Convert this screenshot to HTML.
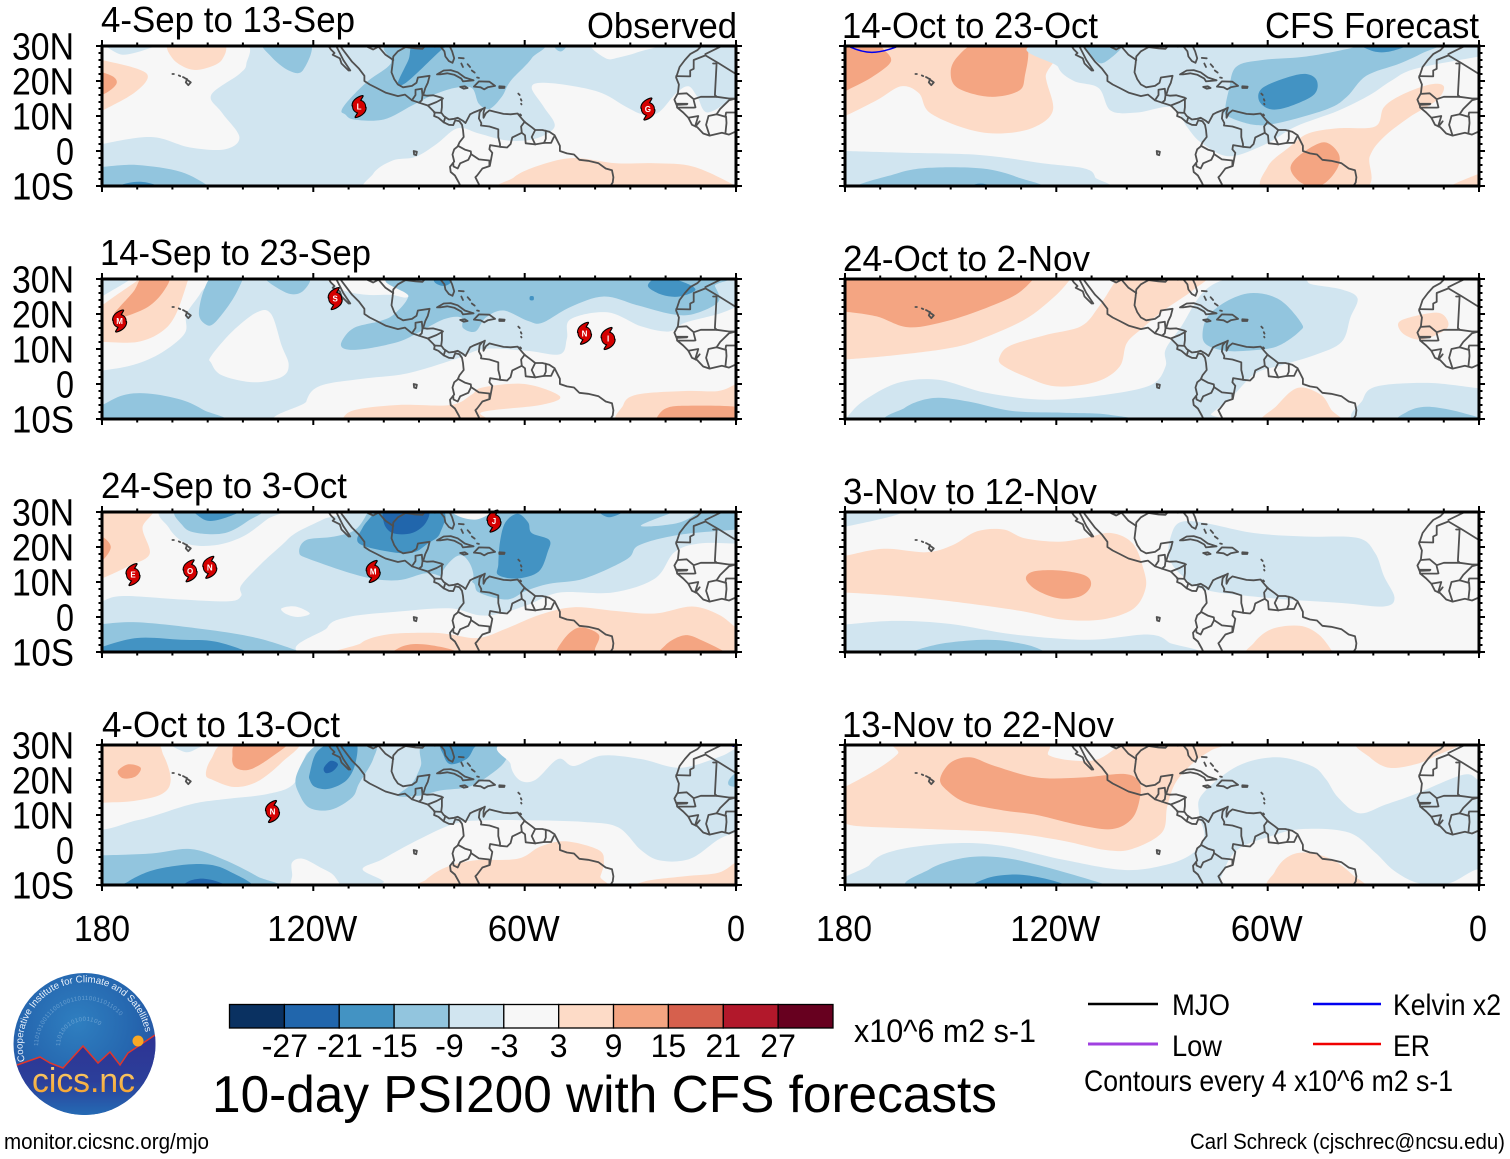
<!DOCTYPE html>
<html lang="en">
<head>
<meta charset="utf-8">
<title>10-day PSI200 with CFS forecasts</title>
<style>
html,body{margin:0;padding:0;background:#fff;width:1510px;height:1159px;overflow:hidden}
svg{display:block}
text{font-family:"Liberation Sans",sans-serif;fill:#000}
</style>
</head>
<body>
<svg id="chart" xmlns="http://www.w3.org/2000/svg" width="1510" height="1159" viewBox="0 0 1510 1159">
<defs>
<radialGradient id="logoSky" cx="0.45" cy="0.35" r="0.7"><stop offset="0" stop-color="#2f7fc0"/><stop offset="0.6" stop-color="#2565ae"/><stop offset="1" stop-color="#2b4a9c"/></radialGradient>
<linearGradient id="logoGround" x1="0" y1="0" x2="0" y2="1"><stop offset="0" stop-color="#2e3192"/><stop offset="0.55" stop-color="#2c3f9a"/><stop offset="1" stop-color="#2277bb"/></linearGradient>
<linearGradient id="logoWord" x1="0" y1="0" x2="0" y2="1"><stop offset="0" stop-color="#fbd77a"/><stop offset="1" stop-color="#f59a23"/></linearGradient>
<clipPath id="logoClip"><circle cx="84.5" cy="1044" r="71"/></clipPath>
<path id="logoArc" d="M24.9 1061.1 A62 62 0 1 1 146.3 1038.6"/>
<path id="logoArcInner" d="M38 1046 A47 47 0 0 1 128 1028"/>
<path id="logoArcMid" d="M60 1046 A25 25 0 0 1 108 1036"/>
</defs>

<g id="panels"></g>

<g>
<text x="101" y="32" font-size="36" textLength="254" lengthAdjust="spacingAndGlyphs">4-Sep to 13-Sep</text>
<text x="587" y="38" font-size="36" textLength="150" lengthAdjust="spacingAndGlyphs">Observed</text>
<text x="100" y="265" font-size="36" textLength="271" lengthAdjust="spacingAndGlyphs">14-Sep to 23-Sep</text>
<text x="101" y="498" font-size="36" textLength="246" lengthAdjust="spacingAndGlyphs">24-Sep to 3-Oct</text>
<text x="102" y="737" font-size="36" textLength="238" lengthAdjust="spacingAndGlyphs">4-Oct to 13-Oct</text>
<text x="842" y="38" font-size="36" textLength="256" lengthAdjust="spacingAndGlyphs">14-Oct to 23-Oct</text>
<text x="1265" y="38" font-size="36" textLength="214" lengthAdjust="spacingAndGlyphs">CFS Forecast</text>
<text x="843" y="271" font-size="36" textLength="247" lengthAdjust="spacingAndGlyphs">24-Oct to 2-Nov</text>
<text x="843" y="504" font-size="36" textLength="254" lengthAdjust="spacingAndGlyphs">3-Nov to 12-Nov</text>
<text x="842" y="737" font-size="36" textLength="272" lengthAdjust="spacingAndGlyphs">13-Nov to 22-Nov</text>
</g>

<g id="colorbar"></g>
<text x="854" y="1042" font-size="32" textLength="182" lengthAdjust="spacingAndGlyphs">x10^6 m2 s-1</text>
<text x="212" y="1112" font-size="52" textLength="785" lengthAdjust="spacingAndGlyphs">10-day PSI200 with CFS forecasts</text>

<g>
<line x1="1088" y1="1004" x2="1158" y2="1004" stroke="#000" stroke-width="2.5"/>
<text x="1172" y="1015" font-size="30" textLength="58" lengthAdjust="spacingAndGlyphs">MJO</text>
<line x1="1313" y1="1004" x2="1381" y2="1004" stroke="#0000f0" stroke-width="2.5"/>
<text x="1393" y="1015" font-size="30" textLength="108" lengthAdjust="spacingAndGlyphs">Kelvin x2</text>
<line x1="1088" y1="1044" x2="1158" y2="1044" stroke="#a040e0" stroke-width="3"/>
<text x="1172" y="1056" font-size="30" textLength="50" lengthAdjust="spacingAndGlyphs">Low</text>
<line x1="1313" y1="1044" x2="1381" y2="1044" stroke="#f00000" stroke-width="2.5"/>
<text x="1393" y="1056" font-size="30" textLength="37" lengthAdjust="spacingAndGlyphs">ER</text>
<text x="1084" y="1091" font-size="30" textLength="369" lengthAdjust="spacingAndGlyphs">Contours every 4 x10^6 m2 s-1</text>
</g>

<text x="4" y="1149" font-size="22" textLength="205" lengthAdjust="spacingAndGlyphs">monitor.cicsnc.org/mjo</text>
<text x="1190" y="1149" font-size="22" textLength="315" lengthAdjust="spacingAndGlyphs">Carl Schreck (cjschrec@ncsu.edu)</text>

<g>
<circle cx="84.5" cy="1044" r="71" fill="url(#logoSky)"/>
<g clip-path="url(#logoClip)">
<text font-size="6" style="fill:#9cc4e6" opacity="0.55" letter-spacing="0.4"><textPath href="#logoArcInner">1101010011100100110110011011010</textPath></text>
<text font-size="6" style="fill:#9cc4e6" opacity="0.55" letter-spacing="0.4"><textPath href="#logoArcMid">110100101001100</textPath></text>
<path d="M10 1066 L17 1065 L40 1057 L50 1063 L63 1068 L83 1046 L98 1063 L110 1052 L120 1065 L128 1053 L155 1035 L165 1028 L165 1125 L10 1125 Z" fill="url(#logoGround)"/>
<path d="M17 1065 L40 1057 L50 1063 L63 1068 L83 1046 L98 1063 L110 1052 L120 1065 L128 1053 L155 1035" fill="none" stroke="#e0362c" stroke-width="1.5"/>
</g>
<circle cx="138" cy="1041" r="5.5" fill="#f9a825"/>
<text font-size="9.7" style="fill:#e8f0fa"><textPath href="#logoArc">Cooperative Institute for Climate and Satellites</textPath></text>
<text x="32" y="1092" font-size="34" textLength="103" lengthAdjust="spacingAndGlyphs" style="fill:url(#logoWord)">cics.nc</text>
</g>
</svg>

<script>
// ---- axis data ----
const lonTicks = [180, 120, 60, 0];
const lonTickLabels = ['180', '120W', '60W', '0'];
const latTicks = [30, 20, 10, 0, -10];
const latTickLabels = ['30N', '20N', '10N', '0', '10S'];
const colorbarLabels = [-27, -21, -15, -9, -3, 3, 9, 15, 21, 27];
const bandValues = [-30, -24, -18, -12, -6, 0, 6, 12, 18, 24, 30];
const bandColors = ['#0a3161', '#2166ac', '#4393c3', '#92c5de', '#d1e5f0', '#f7f7f7', '#fddbc7', '#f4a582', '#d6604d', '#b2182b', '#67001f'];

// ---- filled contour fields: [band value, [lonW,lat, lonW,lat, ...]] in paint order ----
const baseBands = [-6, -6, -6, -6, 0, 0, 0, 0];

const fieldSep04 = [
[0,[183,29, 174,27.5, 166,29.5, 162,31, 140,31, 139,25, 141,22, 149,16, 146,11, 141,4, 145,0.5, 155,1, 166,4, 180,2, 183,1]],
[0,[58,18, 55,19.5, 46,18.5, 38,16.5, 31,12.5, 26.5,10.5, 22,11, 17,16.5, 13.5,18.5, 11,15.5, 8,11, 0,15.5, -3,16.5, -3,-12, 64,-12, 103,-12, 103,-6.5, 97.5,-2.7, 91,-1.7, 85,2, 79,6.5, 73,5, 65,3, 57,3.5, 51.5,7, 54.5,12.5]],
[0,[40.5,31, 37,26.5, 33,26.8, 27,28.5, 20,31]],
[6,[183,26.5, 180,26, 170,23.5, 167,21, 171,16.5, 180,11.5, 183,10]],
[12,[182,22.5, 180,22.5, 176.5,21, 176,19, 179,16.5, 182,16]],
[6,[160.5,31, 160,26.5, 155.5,23.5, 151,23.5, 146,26, 146,31]],
[6,[64,-12, 63,-7.5, 55.5,-4, 46,-2, 34,-3.5, 23,-3.5, 12,-4.5, 0,-10, -3,-12]],
[-12,[134,31, 132,27, 127,23, 123,23, 121,31]],
[-12,[97,31, 98,25, 104.5,20, 110,14.5, 112,11.5, 111,10.5, 108.5,9, 100,9, 92,13, 86,16, 80,18, 75,18, 73,13.5, 70,12, 66.5,15.5, 64,20, 58,26.5, 57,31]],
[-18,[96,19.5, 94.5,19, 90.5,22.3, 83.5,29, 80,31, 91,31, 93,26]],
[-12,[52,31, 51,29, 49.5,28.5, 48,30, 48,31]],
[-12,[183,-4.5, 180,-4.5, 170,-4, 157.5,-6, 149,-10.5, 148,-12, 183,-12]],
[-18,[177,-11.5, 174,-9.5, 169,-8.8, 164,-10, 163,-11.5, 170,-12]]
];

const fieldSep14 = [
[0,[183,3.5, 180,3.8, 171,5.5, 163,9, 156.5,14.5, 156,20, 152,26, 150,31, 171,31, 172.5,29.5, 180,25, 183,23]],
[6,[180,12, 170,12, 163,15, 159,20, 155.5,30, 155.5,31, 168,31, 170,29.5, 176.5,25, 180,22.5, 183,21, 183,11.5]],
[12,[174.5,19, 167,22, 162.5,26.5, 161,31, 168,31, 171,26.5, 175,22, 176.5,20]],
[0,[149,8, 143,15, 136,20.5, 132,20, 129,11, 127,5.5, 129,2, 137,0.5, 146,2.5, 149,6]],
[-12,[152.5,20, 150.5,17, 148,17.5, 143,24, 140,30, 140,31, 148,31, 151,27]],
[-12,[134,31, 127.5,26, 123,26.5, 121.5,31]],
[0,[115,31, 112,27, 105,25.5, 98,25.5, 93,25, 92,31]],
[0,[122,-12, 122,-5, 118,-0.5, 106,1.5, 93.5,3, 80,7, 71.5,10, 59.5,9.5, 50,8.5, 48,13, 47,18.5, 36.5,20.5, 27,16.5, 19,15, 14.5,17.5, 5,20, 0,22, -3,23, -3,-12]],
[-12,[112,12, 111,10, 105.5,10, 96,12, 90.5,14.5, 83,18.5, 78,19, 77.5,16, 74,15, 71,19, 66,21, 59,18, 55,17.5, 47,22, 37.5,25, 28,22.5, 18.5,20, 12,20, 5,23.5, 6,28, 8,31, 93.5,31, 93,25, 97,20, 101,18, 108.5,16]],
[-18,[25,28, 21,25.5, 16,25, 11.5,27, 16,29.5, 22,30.5]],
[-18,[58.5,25, 57.5,25, 57.5,24, 58.5,24]],
[-18,[85.5,31, 85.5,29, 83,28, 81,29, 81,31]],
[6,[112,-10.5, 108.5,-7.5, 96,-6, 81,-6, 75,-3, 72,-1, 60,0, 50,-3.5, 55.5,-6, 72,-8, 73,-11, 112,-12]],
[6,[32,-6, 28,-3, 14.5,-2, 5,-2, 0,0, -3,1.5, -3,-12, 31.5,-12]],
[12,[23,-10.5, 20,-7, 13.5,-6.2, -3,-7, -3,-12, 23,-12]],
[-12,[183,-7, 180,-6, 174,-3.2, 167,-2.7, 157.5,-4.5, 151,-7.5, 146,-11, 183,-12]]
];

const fieldSep24 = [
[0,[183,3.5, 183,31, 111,31, 117,28, 125,24, 129,20.5, 135,15, 140.5,9, 140.5,6, 144,4.5, 157.5,5, 174,6, 180,4.5]],
[-6,[161.5,31, 161,25.5, 156,21, 148,20.5, 140,23, 133,28, 129,31]],
[-12,[158,31, 157,26, 153,24, 145,24, 138.5,27.5, 135,31]],
[-18,[154,30, 150,27.5, 144.5,28.5, 140.5,31, 154.5,31]],
[6,[183,31, 166,31, 168.5,25.5, 166.5,18, 172.5,14.5, 180,11, 183,10]],
[12,[183,23, 180,23, 177.5,20, 180,16, 183,15]],
[0,[129,2.5, 125,3, 121,1, 124.5,0, 128,1]],
[-12,[183,-2, 180,-2, 170,-1.5, 151,-3.5, 136,-6, 123.5,-10, 121,-11.5, 183,-12]],
[-18,[183,-9.5, 180,-8.5, 170,-6, 157.5,-6.5, 148,-7, 138.5,-10, 137,-11.5, 183,-12]],
[0,[116,-11.5, 116,-3, 110,0, 96.5,1.5, 81.5,2.5, 73,0.5, 67,1, 59,3.5, 50,7, 35,7, 23,11, 17.5,18.5, 10.5,21, 0,21, -3,21, -3,-12]],
[-12,[124,18.5, 122,22, 114,23, 108,25, 104.5,30, 104.5,31, -3,31, -3,25.5, 0,25, 16,23.5, 27.5,20.5, 31,16.5, 43,11, 53,9.5, 59.5,7.5, 65,5, 73,7, 75,10, 83,11.5, 88,12.5, 96,10.5, 105.8,11.5, 121,16.5]],
[-6,[83.5,12, 80.5,16.5, 77.5,17.5, 75,14, 75,10, 80,9]],
[0,[81,31, 78,28.5, 73,28, 69,31]],
[-6,[27,26, 19,29.5, 15,31, 10,31, 16,27]],
[-18,[107,21, 106,25.5, 102.5,30, 102.5,31, 84,31, 84,24, 87.5,21, 91.5,18.5, 97.5,18.5]],
[-24,[100,27, 99,31, 88,31, 88,27, 92,24, 97.5,24]],
[-18,[67.5,15, 67,21.5, 65.5,27, 62,29.5, 59,27, 58,24, 53,22, 53.5,18.5, 56,13, 62,11, 67.5,12]],
[-18,[39,31, 39,30, 36,28.5, 32,30, 32,31]],
[6,[107,-12, 106.5,-7.5, 99,-5, 87,-4.5, 81,-5, 73,-6, 65,-3.2, 55.5,0.7, 46,2.8, 34,1.7, 23,1, 12.5,3, 5,0.7, 0,-3, -3,-5, -3,-12]],
[12,[51,-12, 49,-6.5, 44.5,-3, 39,-5, 40,-9, 41,-12]],
[12,[21,-12, 20,-8, 14.5,-5.2, 9,-7, 2.5,-10.3, 1,-11.5]],
[12,[98,-12, 96,-9, 91,-7.7, 84,-8.5, 78.5,-10.2, 78,-12]]
];

const fieldOct04 = [
[0,[183,7.5, 170,8.5, 155,13, 145.5,14.5, 133,16, 125.5,19, 122,27.5, 119,31, 183,31]],
[-6,[161,31, 156.5,28, 153,29, 150,31]],
[6,[183,31, 166,31, 162.5,27, 160.5,20, 163,16, 171,14, 180,13.5, 183,13]],
[12,[175.5,22.5, 172.5,24.5, 169,23.5, 170.5,21, 174,20.5]],
[6,[150.5,21.5, 149,26, 144,31, 124.5,31, 129,25, 136,19.5, 142.5,18, 148.5,20]],
[12,[143,26.5, 141,31, 127.5,31, 132,26.5, 138,23, 142,23.5]],
[-12,[125,20.5, 122,27, 119,30, 116,31, 103,31, 103,26, 107,19, 109,15, 115,11.5, 121,12, 124,16]],
[-18,[121,22, 119,28, 114,31, 108,31, 108,25, 110.5,20, 115.5,17.5, 119.5,18, 121,20]],
[-24,[117,23.5, 115,25.5, 113,24.5, 114.5,22.5, 116.5,22]],
[-12,[96,15.5, 92,19, 89.5,24, 87.5,31, 64.5,31, 65.5,25.5, 70.5,21, 76,18, 84,17, 90,15.5]],
[-18,[81,24.5, 76.5,26, 74.5,29, 73.5,31, 83.5,31, 83,27]],
[-12,[2,20, 0,22, -3,22, -3,18, 0,18, 2,18.5]],
[0,[62.5,31, 64,24.5, 61.5,20, 57,20, 50.5,26, 46,24, 38,27, 27,26, 16,23.5, 5,26.5, 0,29, -3,30, -3,31]],
[0,[126,-3.5, 123,-2.5, 118,-5, 114,-7.5, 113,-12, 125.5,-12, 126,-7]],
[0,[106,-5.5, 100.5,-2.7, 92,2, 80,7.5, 70.5,8.5, 59.5,8.5, 43,8, 33.5,6.5, 27,0, 21.5,-3, 13,-2.5, 5,3, 0,5, -3,5.5, -3,-12, 99.5,-12, 100,-9]],
[6,[89,-11.5, 88,-8.5, 82.5,-5, 74.5,-3, 62,-2.5, 55.5,1, 48.5,2.5, 39,0, 37.5,-3.5, 38.5,-7.5, 40,-11.5]],
[6,[28,-11.5, 26,-9, 14.5,-7.5, 5,-6.5, 0,-3.5, -3,-2.5, -3,-12]],
[-12,[183,-1.5, 180,-1.5, 166,-1, 155,0.3, 145.5,-2.7, 136,-7.5, 130.5,-11.5, 183,-12]],
[-18,[173.5,-11.5, 172.5,-9, 164.5,-5.5, 152,-4, 144,-6, 138.5,-11.5]],
[-24,[157,-11.5, 155.5,-9, 151,-8.2, 146,-9.5, 144.5,-11.5]]
];

const fieldOct14 = [
[6,[183,9.5, 180,10, 171,14.5, 164,18.5, 159,16.5, 156,11, 146,6.5, 137,5, 127,6.5, 121,11.5, 123,21, 124,31, 183,31]],
[12,[183,14.5, 180,17, 172.5,21, 167,25.5, 169,29, 172,31, 183,31]],
[12,[150,22.5, 148,27, 142,31, 129,31, 129,21, 131,17, 139,15.5, 148,18]],
[-6,[119,31, 119.5,24, 115,20, 108,18, 104.5,11.5, 97,11, 87,12.5, 83,7, 79,2.5, 71,-1.5, 60.5,2, 52,7, 40,11.5, 31,16, 25,20, 18,23.5, 0,27, -5,28, -5,31]],
[6,[60,-11.5, 60,-4.5, 54,1, 48.5,5, 40,6.5, 29.5,7, 27,12.5, 22,16, 14,19, 10,18.5, 12,14.5, 20,9.5, 27,4, 31,-1.5, 33,-11]],
[12,[53.5,-4.5, 50,-0.5, 44,2.5, 40,-0.5, 40,-4.5, 43.5,-9, 47.5,-10.2, 51.5,-8.3]],
[6,[9,-11, 0,-6.5, -5,-5.5, -5,-11]],
[-12,[69,24, 61.5,26, 49,27, 36,29.5, 33.5,31, 11,31, 16,28, 22.5,25, 32,21.5, 37.5,15.5, 43,12, 57,8, 64,7.5, 71.5,10, 72,12.5, 71,17.5]],
[-18,[62.5,14.5, 61.5,18, 54.5,21, 49,22, 46,20, 47,16, 54.5,12.5, 59.5,12]],
[-18,[33.5,31, 30,28.5, 25,28.5, 19.5,31]],
[-12,[112,31, 109,26, 106,25.5, 101,31]],
[-6,[183,0, 180,0, 163,-0.5, 141,-1.2, 124,-3.5, 112,-5, 109,-7.5, 110,-11.5, 183,-12]],
[-12,[175,-11, 165.5,-6.5, 156,-4.8, 141,-5, 131,-7.5, 126,-11]],
[-18,[146,-11, 143,-9.5, 140,-9.5, 137,-11]]
];

const fieldOct24 = [
[6,[183,7, 180,7, 165,8.3, 150,10.3, 141.5,12.8, 129,18.4, 120.5,25, 116,30, 116,31, 183,31]],
[12,[180,20.7, 171,19.3, 162,16.2, 151,18, 140,21.7, 131.5,25.5, 126.5,30, 126.5,31, 183,31, 183,21]],
[6,[136,8, 133,11, 123,14, 113,16.5, 108,22, 103.5,29, 102,31, 78.5,31, 81,27, 90,20.7, 95.5,16, 100,11.7, 102,5, 108.5,0.7, 120,-0.7, 129,2.2, 135.5,5.5]],
[-6,[180,-10, 175,-5, 165,0.3, 153.5,1.2, 140,-2.5, 123,-4.5, 105.5,-3, 93,-0.2, 89,5, 89,9.8, 84.5,16.5, 78.5,26, 71.5,30, 60,31, 50,30, 47.5,28.5, 39,27, 34.5,24.5, 36.5,19, 39,12, 46.5,8.3, 56,5.4, 63.5,3, 70,-3.5, 76,-8.5, 78.5,-11, 183,-11.5]],
[-12,[78.5,13.8, 77,19.3, 71,24, 64,26, 56.5,24, 50.5,17.5, 51,15, 57.5,10.7, 66,9.5, 72,9.5, 77,11]],
[-12,[164,-11, 163,-6.8, 155,-4, 145,-5, 132.5,-7.7, 118,-8.2, 105.5,-8.7, 99.5,-11]],
[6,[61,-11, 57.5,-6.3, 51.5,-1.1, 45,-3, 42,-7.3, 40,-11]],
[6,[23,17, 20.5,18.8, 12,20.4, 9,18.3, 9.5,15.5, 16,12.7, 21,14]],
[-6,[33.5,-11, 33,-4.5, 29,-0.7, 14.5,0.3, 0,-1.2, -5,-1.2, -5,-11]],
[-12,[22,-11, 20.5,-8, 14.5,-6.5, 4.5,-8.3, -1.5,-11]]
];

const fieldNov03 = [
[-6,[183,31, 163.5,31, 166,29, 180,25.8, 183,25.5]],
[6,[183,17.5, 180,17.5, 169,19.5, 157,18.5, 149.5,20.5, 142.5,24.5, 135,25, 129,22.5, 119.5,21.5, 112,22.5, 104.5,24, 98.3,21, 95.2,13.5, 94.7,8, 98.2,2.3, 107,-0.7, 118.3,-0.7, 130,1.7, 150,4.5, 165,6, 180,7, 183,7]],
[12,[128.6,10.8, 126.5,13, 119,13.3, 111.7,11.8, 110.2,9, 113,6, 119,5.3, 125.3,7.5]],
[-6,[88,17, 87.5,23, 85,27, 78.5,27, 64,24, 49.5,23, 34.5,22.6, 29.5,18.3, 27,11.7, 24,5.5, 27,3, 39,4, 58,5.3, 77.5,7.7, 84.5,12]],
[-6,[183,-2, 180,-2.1, 166,-1.1, 150,-2, 132,-5, 111,-6.5, 94,-5, 88,-7.3, 86,-11, 183,-11.5]],
[-12,[159,-11, 154.5,-8, 140,-6.5, 129,-7.8, 123,-10, 121.5,-11]],
[6,[64.5,-11, 64,-7.5, 59,-3.5, 51,-2.5, 45.5,-5, 41.5,-10, 41,-11]]
];

const fieldNov13 = [
[6,[183,16.5, 180,18, 171,23, 165,27.5, 163.5,31, 125.5,31, 122,27, 114.5,25.5, 108,26, 102,30, 101,31, 71.5,31, 76,28.5, 81,25, 86,19.5, 88.5,12.5, 90,5, 98.5,0.3, 106,0, 118.5,2.7, 134.5,5, 156.5,6, 175,6.7, 180,7.5, 183,8]],
[12,[153,20.3, 150,25, 144.5,26.5, 137.5,24, 125.5,20.7, 113,20.7, 100.5,21.7, 96.5,19.3, 96.3,14.7, 98.5,9, 104,6, 113,7, 125.5,10, 135,11.3, 145.5,13.5, 151,17]],
[6,[33.5,31, 31,26.5, 25.5,23.5, 18,24.5, 12,27, 6,31]],
[-6,[78.5,16, 68.5,24, 57.5,26.5, 47.5,24, 43.5,20.3, 40,15, 34,10.5, 26.5,13, 18,16, 4.5,21.5, 0,20, -5,18.5, -5,-9, 0,-5.5, 8.5,-9.5, 17,-9.5, 24,-6, 29.5,-0.7, 37,5, 50,6, 59,4, 69,-0.2, 73.5,-8.5, 74,-11.5, 175,-11.5, 173,-4.2, 166,-0.2, 150,1.9, 135.5,1.2, 118,-2.8, 100.5,-5.7, 88,-4, 81,-0.7, 78,4, 79.5,10.5]],
[-12,[159.5,-11, 156,-5.5, 146,-2.2, 135,-2.2, 122.5,-5, 106.5,-9.7, 104,-11]],
[-18,[142.5,-11, 139.5,-8, 131.5,-7, 124,-8, 118,-9.7, 115.5,-11]],
[6,[58.5,-11, 58,-6.3, 54.5,-2.1, 49.5,-0.7, 42,-2.6, 36,-7, 33.5,-11]]
];

const panelFields = [fieldSep04, fieldSep14, fieldSep24, fieldOct04, fieldOct14, fieldOct24, fieldNov03, fieldNov13];

// ---- tropical cyclones: [letter, lonW, lat] ----
const stormsSep04 = [['L',107,12.7],['G',25,12]];
const stormsSep14 = [['M',175,18],['S',113.8,24.4],['N',43,14.5],['I',36.3,13]];
const stormsSep24 = [['E',171.2,12.1],['O',155,13.2],['N',149.4,14.2],['M',103,13],['J',68.7,27.4]];
const stormsOct04 = [['N',131.6,11]];
const panelStorms = [stormsSep04, stormsSep14, stormsSep24, stormsOct04, [], [], [], []];

// ---- Kelvin-wave contours: lonW,lat ----
const kelvinOct14 = [178.5,29.7, 172.5,28.2, 165.5,29.7];
const kelvinOct04 = [2,30, 0.5,29.6];

// ---- coastlines and borders: lonW,lat ----
const coastLines = [
[117,32.5,116,30.5,115,29,114,28,114.5,27.5,112.5,26.5,112,25,110,23,109.5,23,110.5,24.5,111.5,26,112.5,28,113.5,30,114.7,31.7],
[114.7,31.7,113,31.3,112,29.5,110.5,27.5,109,25.5,107,23.5,105.5,21.5,105.5,20,104,19,102,18,99.5,16.7,96,15.7,94,16.1,92,14.5,90,13.8,87.5,13,85.5,11,85.7,10,84.5,9.5,83,8.2,81.5,7.5,80.3,7.4,79.7,8.8,78.5,8.5,77.8,7.5,77.5,6,77.3,4,78.5,2.5,79,1.3,80,0.5,80.5,-1,80,-3,81.2,-4.5,81,-6,79.8,-7,78.7,-9,78,-10.5,77,-12],
[81.4,31,81.3,30,80.6,28.5,80,26.5,80.5,25.2,81.5,25.7,82.5,27,82.8,28.5,84,30,85.5,29.8,88,30.3,89,29.2,91,29.3,93.8,29.7,96,28.5,97.3,27,97.5,25,97.8,22.5,97,20.5,96,19,94.5,18.2,92,18.6,90.7,19.5,90.3,21,87,21.5,87.5,19.5,88.2,18,88.8,16,87.7,15.8,86,15.9,83.5,15.2,83.5,12.5,83.7,11,83,10,81.5,9,80,9.2,79,9.5,77.5,8.6,76.8,8,75.5,10.5,74.5,11,72,12,71.3,12.4,71.7,11,71.7,9.5,71,10.8,70,11.6,68.5,11.2,66,10.6,64,10.5,62,10.7,61,9.5,60,8.3,58,6.8,57,6,55,6,53,5.5,51.5,4.5,50,1.5,50,0,48,-0.7,46,-1,44.5,-2.5,42,-2.8,39,-3.5,37,-5,35.2,-5.5,34.8,-7.5,35,-9,36,-10.5,37,-12],
[97.3,26,99.5,27.5,101.5,29.8,103,29,104.5,29.7,106.5,31.7],
[72,12,72.8,11,73,9.3,72.3,8,72.4,7.3,70,7,67.5,6.2,67.5,4,67,2,67,1.2,69.8,1.7,70,0.5,69.2,-0.5,69.9,-4.3,72,-5,73.5,-7,74,-7.5,73,-9.5,72.5,-12],
[78.8,1.4,77,0.4,75.3,-0.1,75.2,-0.9,73,-2.4,70,-2.7,70,-4.3],
[80.3,-3.4,80.2,-4.4,79,-5,78.3,-3.5,76,-2.5,75.2,-0.9],
[67,1.2,65,1,64,2,63.5,3.9,60.8,5.2,61,7,60,8.4],
[60.8,5.2,59.9,4.5,59.7,2.2,57,1.9,54.5,2.3,52.5,2.3,51.7,4],
[57,1.9,58,4,57,6],[54.5,2.3,54,3.5,54,5.8],
[92,14.5,91,16,91,17.5,89.2,17.8,89,15.9,89.2,14.5,90,13.8],
[87.5,13,85,14,83.2,15],[85.7,11,83.7,10.9],[83,8.2,82.6,9.5],
[84.9,21.9,83,23,81,23.1,79,22.5,77,21,74.5,20.2,77.5,19.9,78,20.7,80,21.8,82,22.2,84,21.9,84.9,21.9],
[74.4,18.4,73,19.9,70,19.8,68.4,18.6,70.5,18.2,71.5,17.6,72.5,18.2,74.4,18.4],
[78.3,18.3,77,18.5,76.2,18,77.3,17.8,78.3,18.3],
[67.2,18.5,65.7,18.4,65.8,18,67.2,18,67.2,18.5],
[78.7,26.6,77.3,26.5],[78,25,77.5,24],[76.2,24.8,75.5,24],[75,23,74.2,22.4],[73.5,21,73,20.9],
[61.8,16.4,61.4,16],[61.1,14.8,60.9,14.4],[61,13.5,60.9,13.3],[61.3,10.5,61,10.2],
[160,22,159.6,22],[158.2,21.6,157.8,21.4],[157,21.1,156.5,20.9],[156.3,20.7,155.9,20.6],[155.9,20.4,154.8,19.6,155.5,18.8,156.2,19.6,155.9,20.4],
[91.5,0,90.6,-0.2,90.8,-1.2,91.4,-1,91.5,0],
[9.8,31,9.8,30,11,28.8,13,27.7,14.5,26,16,24,17,21,16.2,19,16.5,16.5,17.5,14.7,16.8,13,16.7,12.4,15,11,13.5,9.5,12.5,7.5,11,6.8,9.3,5,7.5,4.4,4,5.2,2,4.7,0,5.6,-1,6],
[17,21.4,13,21.3,13,23,12,23.5,12,26,8.7,27.3],
[8.7,27.7,4,30,1.5,32],[8.7,27.3,4.8,25,0,22],
[6.5,25,5.5,25,6,16,5.5,15.5,10,15.5,12,14.8,14,16.5,16.5,16.3],
[16.8,13.5,13.8,13.5,14,13.3,16.8,13.2],
[16.7,12.4,12,12.4,11.5,12.5,12,14.5],
[13.5,9.5,10.7,10,11.5,7.4],[11.5,7,10.3,8.5],
[7.5,4.4,8.5,7.5,7.8,10,5.5,10.5,3,9.8,2.8,11,0,11],
[3,5,2.7,8,2.8,9.8],[0,11,-0.5,7.5,-1,6],
[5.5,10.5,4.5,12,2,14.5,0,15],[5.5,15.5,2,15,0,15,-1,15]
];

// ---- layout of the eight maps ----
const panelLefts = [102,102,102,102,845,845,845,845];
const panelTops = [46,279,512,745,46,279,512,745];
const pxPerDegX = 634 / 180;
const pxPerDegY = 140 / 40;
const NS = 'http://www.w3.org/2000/svg';
const root = document.getElementById('panels');

function make(tag, parent) {
  const el = document.createElementNS(NS, tag);
  parent.appendChild(el);
  return el;
}
function bandColor(v) { return bandColors[bandValues.indexOf(v)]; }
function closedSpline(flat, sx, sy) {
  const p = [];
  for (let i = 0; i < flat.length; i += 2) p.push([sx(flat[i]), sy(flat[i + 1])]);
  const n = p.length;
  let d = 'M' + p[0][0].toFixed(1) + ' ' + p[0][1].toFixed(1);
  for (let i = 0; i < n; i++) {
    const a = p[(i - 1 + n) % n], b = p[i], c = p[(i + 1) % n], e = p[(i + 2) % n];
    const k = 1 / 6;
    d += 'C' + (b[0] + (c[0] - a[0]) * k).toFixed(1) + ' ' + (b[1] + (c[1] - a[1]) * k).toFixed(1) + ' ' +
      (c[0] - (e[0] - b[0]) * k).toFixed(1) + ' ' + (c[1] - (e[1] - b[1]) * k).toFixed(1) + ' ' +
      c[0].toFixed(1) + ' ' + c[1].toFixed(1);
  }
  return d + 'Z';
}
function polyline(flat, sx, sy) {
  let d = '';
  for (let i = 0; i < flat.length; i += 2) {
    d += (i ? 'L' : 'M') + sx(flat[i]).toFixed(1) + ' ' + sy(flat[i + 1]).toFixed(1);
  }
  return d;
}
function quadLine(flat, sx, sy) {
  return 'M' + sx(flat[0]).toFixed(1) + ' ' + sy(flat[1]).toFixed(1) +
    (flat.length > 4 ? 'C' + sx(flat[2] + 1.5).toFixed(1) + ' ' + sy(flat[3] - 0.5).toFixed(1) + ' ' + sx(flat[2] - 1.5).toFixed(1) + ' ' + sy(flat[3] - 0.5).toFixed(1) + ' ' : 'L') +
    sx(flat[flat.length - 2]).toFixed(1) + ' ' + sy(flat[flat.length - 1]).toFixed(1);
}

panelFields.forEach(function (field, idx) {
  const x0 = panelLefts[idx], y0 = panelTops[idx];
  const sx = function (lon) { return x0 + (180 - lon) * pxPerDegX; };
  const sy = function (lat) { return y0 + (30 - lat) * pxPerDegY; };
  const w = 180 * pxPerDegX, h = 40 * pxPerDegY;

  const g = make('g', root);
  
  

  const clip = make('clipPath', g);
  clip.setAttribute('id', 'panelClip' + idx);
  const clipRect = make('rect', clip);
  clipRect.setAttribute('x', x0);
  clipRect.setAttribute('y', y0);
  clipRect.setAttribute('width', w);
  clipRect.setAttribute('height', h);

  const body = make('g', g);
  body.setAttribute('clip-path', 'url(#panelClip' + idx + ')');

  const base = make('rect', body);
  
  
  base.setAttribute('x', x0);
  base.setAttribute('y', y0);
  base.setAttribute('width', w);
  base.setAttribute('height', h);
  base.setAttribute('fill', bandColor(baseBands[idx]));

  field.forEach(function (layer) {
    const path = make('path', body);
    
    
    path.setAttribute('d', closedSpline(layer[1], sx, sy));
    path.setAttribute('fill', bandColor(layer[0]));
  });

  coastLines.forEach(function (line) {
    const path = make('path', body);
    
    
    path.setAttribute('d', polyline(line, sx, sy));
    path.setAttribute('fill', 'none');
    path.setAttribute('stroke', '#505050');
    path.setAttribute('stroke-width', '1.8');
    path.setAttribute('stroke-linejoin', 'round');
    path.setAttribute('stroke-linecap', 'round');
  });

  const kelvin = idx === 4 ? kelvinOct14 : (idx === 3 ? kelvinOct04 : null);
  if (kelvin) {
    const arc = make('path', body);
    
    
    arc.setAttribute('d', quadLine(kelvin, sx, sy));
    arc.setAttribute('fill', 'none');
    arc.setAttribute('stroke', '#0000f0');
    arc.setAttribute('stroke-width', '1.5');
  }

  panelStorms[idx].forEach(function (s) {
    const sg = make('g', g);
    
    
    sg.setAttribute('transform', 'translate(' + sx(s[1]).toFixed(1) + ' ' + sy(s[2]).toFixed(1) + ')');
    const swirlShape = 'M3.5 -10.5C0.5 -10 -6.5 -7 -6.5 -1L0 -4C1 -6.5 2.2 -8.5 3.5 -10.5ZM-3.5 10.5C-0.5 10 6.5 7 6.5 1L0 4C-1 6.5 -2.2 8.5 -3.5 10.5Z';
    const outline = make('path', sg);
    outline.setAttribute('d', swirlShape);
    outline.setAttribute('fill', '#000');
    outline.setAttribute('stroke', '#000');
    outline.setAttribute('stroke-width', '2.2');
    outline.setAttribute('stroke-linejoin', 'round');
    const ring = make('circle', sg);
    ring.setAttribute('r', '7');
    ring.setAttribute('fill', '#000');
    const swirl = make('path', sg);
    swirl.setAttribute('d', swirlShape);
    swirl.setAttribute('fill', '#d40000');
    const disc = make('circle', sg);
    disc.setAttribute('r', '6');
    disc.setAttribute('fill', '#d40000');
    const letter = make('text', sg);
    letter.setAttribute('y', '3');
    letter.setAttribute('text-anchor', 'middle');
    letter.setAttribute('font-size', '8');
    letter.setAttribute('font-weight', 'bold');
    letter.setAttribute('style', 'fill:#fff');
    letter.textContent = s[0];
  });

  const ticks = make('path', g);
  
  
  let td = '';
  for (let lon = 0; lon <= 180; lon += 10) {
    const major = lonTicks.indexOf(lon) >= 0;
    const len = major ? 6 : 3.5;
    td += 'M' + sx(lon).toFixed(1) + ' ' + y0 + 'v' + (-len) + 'M' + sx(lon).toFixed(1) + ' ' + (y0 + h) + 'v' + len;
  }
  for (let lat = -10; lat <= 30; lat += 2) {
    const major = latTicks.indexOf(lat) >= 0;
    const len = major ? 6 : 3.5;
    td += 'M' + x0 + ' ' + sy(lat).toFixed(1) + 'h' + (-len) + 'M' + (x0 + w) + ' ' + sy(lat).toFixed(1) + 'h' + len;
  }
  ticks.setAttribute('d', td);
  ticks.setAttribute('stroke', '#000');
  ticks.setAttribute('stroke-width', '2');
  ticks.setAttribute('fill', 'none');

  const frame = make('rect', g);
  
  
  frame.setAttribute('x', x0);
  frame.setAttribute('y', y0);
  frame.setAttribute('width', w);
  frame.setAttribute('height', h);
  frame.setAttribute('fill', 'none');
  frame.setAttribute('stroke', '#000');
  frame.setAttribute('stroke-width', '3');

  if (idx < 4) {
    latTicks.forEach(function (lat, i) {
      const t = make('text', g);
      
      
      t.setAttribute('x', '74');
      t.setAttribute('y', (sy(lat) + 13.5).toFixed(1));
      t.setAttribute('text-anchor', 'end');
      t.setAttribute('font-size', '38');
      t.setAttribute('textLength', latTickLabels[i].length === 1 ? '18' : '62');
      t.setAttribute('lengthAdjust', 'spacingAndGlyphs');
      t.textContent = latTickLabels[i];
    });
  }
  if (idx === 3 || idx === 7) {
    lonTicks.forEach(function (lon, i) {
      const t = make('text', g);
      const label = lonTickLabels[i];
      const tw = label === '120W' ? 90 : (label === '0' ? 18 : (label === '60W' ? 72 : 56));
      const wide = label === '120W' || label === '60W';
      const shift = (wide || idx === 7) ? -1 : 0;
      
      
      t.setAttribute('x', (sx(lon) + shift).toFixed(1));
      t.setAttribute('y', '941');
      t.setAttribute('text-anchor', 'middle');
      t.setAttribute('font-size', '36');
      t.setAttribute('textLength', tw);
      t.setAttribute('lengthAdjust', 'spacingAndGlyphs');
      t.textContent = label;
    });
  }
});

// ---- colorbar ----
const cb = document.getElementById('colorbar');
const cbLeft = 229.5, cbTop = 1004.5, cbBox = 603.5 / bandColors.length, cbHeight = 23.5;
bandColors.forEach(function (c, i) {
  const r = make('rect', cb);
  
  
  r.setAttribute('x', (cbLeft + i * cbBox).toFixed(1));
  r.setAttribute('y', cbTop);
  r.setAttribute('width', cbBox.toFixed(1));
  r.setAttribute('height', cbHeight);
  r.setAttribute('fill', c);
  r.setAttribute('stroke', '#000');
  r.setAttribute('stroke-width', '1.3');
});
colorbarLabels.forEach(function (v, i) {
  const t = make('text', cb);
  
  
  t.setAttribute('x', (cbLeft + (i + 1) * cbBox + (v < 0 ? 0.5 : 0)).toFixed(1));
  t.setAttribute('y', '1057');
  t.setAttribute('text-anchor', 'middle');
  t.setAttribute('font-size', '32');
  t.textContent = String(v);
});
</script>
</body>
</html>
